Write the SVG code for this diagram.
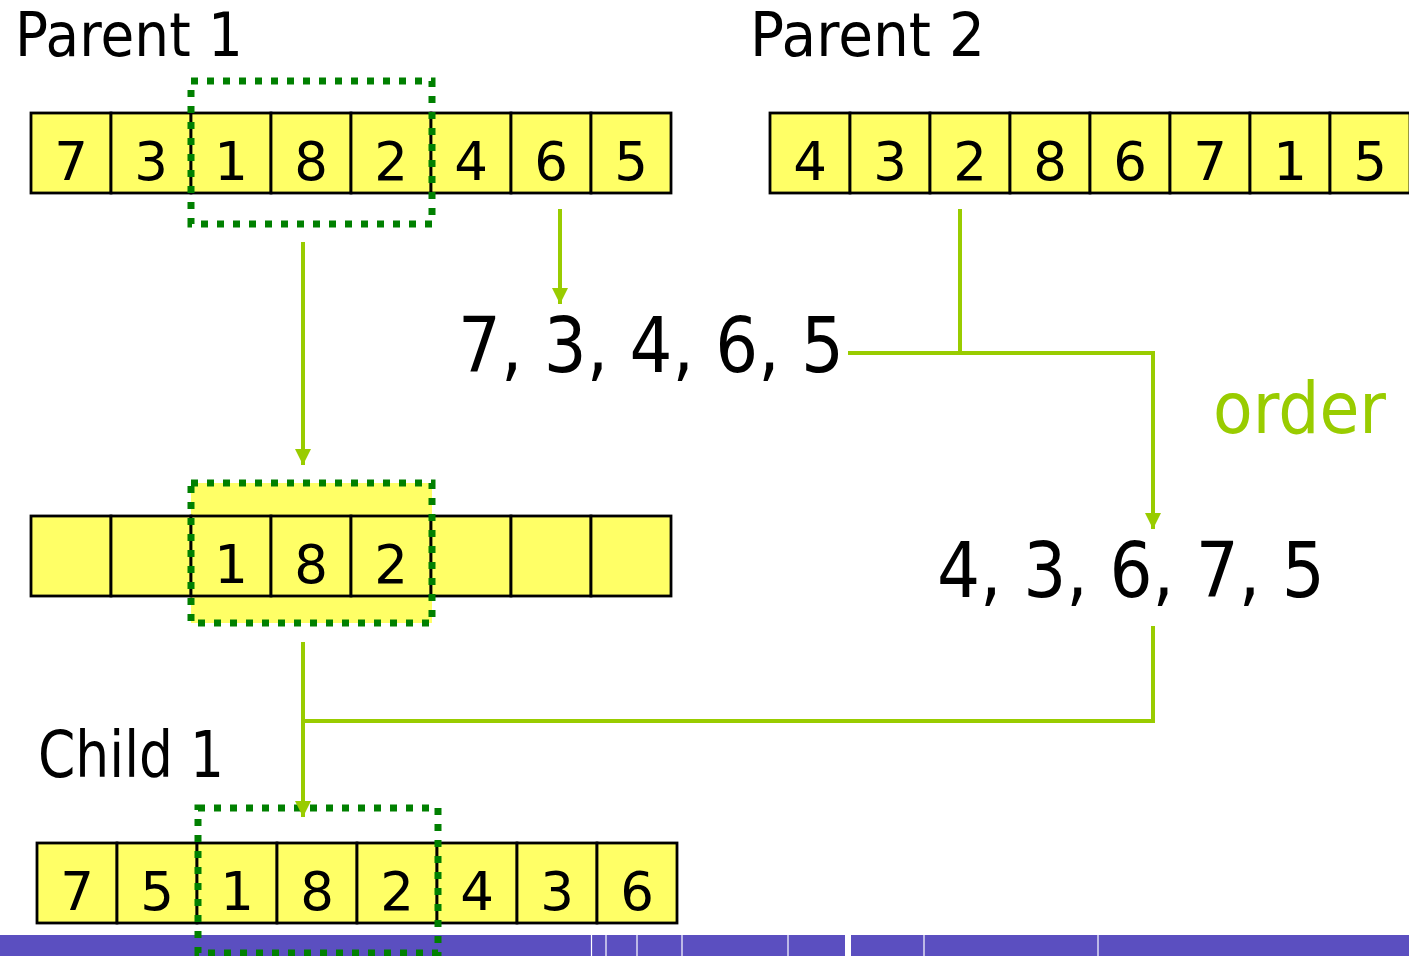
<svg xmlns="http://www.w3.org/2000/svg" width="1409" height="956" viewBox="0 0 1409 956">
  <style>
    .cell { fill: #FFFF66; stroke: #000; stroke-width: 2.8; }
    .num { font-family: "DejaVu Sans", Verdana, sans-serif; font-size: 53px; fill: #000; text-anchor: middle; }
    .title { font-family: "DejaVu Sans", Verdana, sans-serif; fill: #000; }
    .seq { font-family: "DejaVu Sans", Verdana, sans-serif; font-size: 76px; fill: #000; }
    .sel { fill: none; stroke: #008000; stroke-width: 7; stroke-dasharray: 7 9; }
    .flow { fill: none; stroke: #99CC00; stroke-width: 4; }
    .tick { stroke: #FFFFFF; stroke-width: 1.2; }
  </style>
  <defs>
    <marker id="tip" viewBox="0 0 16 16" refX="16" refY="8" markerWidth="16" markerHeight="16" markerUnits="userSpaceOnUse" orient="auto">
      <path d="M0 0 L16 8 L0 16 Z" fill="#99CC00"/>
    </marker>
  </defs>

  <rect width="1409" height="956" fill="#FFFFFF"/>

  <!-- footer band -->
  <g id="footer">
    <rect x="0" y="935" width="1409" height="21" fill="#5B4FC0"/>
    <line class="tick" x1="591.5" y1="935" x2="591.5" y2="956"/>
    <line class="tick" x1="606" y1="935" x2="606" y2="956"/>
    <line class="tick" x1="637" y1="935" x2="637" y2="956"/>
    <line class="tick" x1="682" y1="935" x2="682" y2="956"/>
    <line class="tick" x1="788" y1="935" x2="788" y2="956"/>
    <rect x="845" y="935" width="6" height="21" fill="#FFFFFF"/>
    <line class="tick" x1="924" y1="935" x2="924" y2="956"/>
    <line class="tick" x1="1098" y1="935" x2="1098" y2="956"/>
  </g>

  <!-- titles -->
  <g id="labels">
    <text class="title" x="15" y="56" font-size="60" textLength="228" lengthAdjust="spacingAndGlyphs">Parent 1</text>
    <text class="title" x="750" y="56" font-size="60" textLength="235" lengthAdjust="spacingAndGlyphs">Parent 2</text>
    <text class="title" x="38" y="777" font-size="64" textLength="186" lengthAdjust="spacingAndGlyphs">Child 1</text>
    <text x="1213" y="433" font-family="DejaVu Sans, Verdana, sans-serif" font-size="72" fill="#99CC00" textLength="173" lengthAdjust="spacingAndGlyphs">order</text>
  </g>

  <!-- Parent 1 -->
  <g id="parent1">
    <rect class="cell" x="31" y="113" width="80" height="80"/>
    <rect class="cell" x="111" y="113" width="80" height="80"/>
    <rect class="cell" x="191" y="113" width="80" height="80"/>
    <rect class="cell" x="271" y="113" width="80" height="80"/>
    <rect class="cell" x="351" y="113" width="80" height="80"/>
    <rect class="cell" x="431" y="113" width="80" height="80"/>
    <rect class="cell" x="511" y="113" width="80" height="80"/>
    <rect class="cell" x="591" y="113" width="80" height="80"/>
    <text class="num" x="71" y="180">7</text>
    <text class="num" x="151" y="180">3</text>
    <text class="num" x="231" y="180">1</text>
    <text class="num" x="311" y="180">8</text>
    <text class="num" x="391" y="180">2</text>
    <text class="num" x="471" y="180">4</text>
    <text class="num" x="551" y="180">6</text>
    <text class="num" x="631" y="180">5</text>
    <rect class="sel" x="191" y="81" width="241" height="143"/>
  </g>

  <!-- Parent 2 -->
  <g id="parent2">
    <rect class="cell" x="770" y="113" width="80" height="80"/>
    <rect class="cell" x="850" y="113" width="80" height="80"/>
    <rect class="cell" x="930" y="113" width="80" height="80"/>
    <rect class="cell" x="1010" y="113" width="80" height="80"/>
    <rect class="cell" x="1090" y="113" width="80" height="80"/>
    <rect class="cell" x="1170" y="113" width="80" height="80"/>
    <rect class="cell" x="1250" y="113" width="80" height="80"/>
    <rect class="cell" x="1330" y="113" width="80" height="80"/>
    <text class="num" x="810" y="180">4</text>
    <text class="num" x="890" y="180">3</text>
    <text class="num" x="970" y="180">2</text>
    <text class="num" x="1050" y="180">8</text>
    <text class="num" x="1130" y="180">6</text>
    <text class="num" x="1210" y="180">7</text>
    <text class="num" x="1290" y="180">1</text>
    <text class="num" x="1370" y="180">5</text>
  </g>

  <!-- remaining genes of Parent 1 -->
  <g id="rest">
    <text class="seq" x="458" y="372" textLength="386" lengthAdjust="spacingAndGlyphs">7, 3, 4, 6, 5</text>
  </g>

  <!-- the same genes in Parent 2 order -->
  <g id="ordered">
    <text class="seq" x="937" y="597" textLength="388" lengthAdjust="spacingAndGlyphs">4, 3, 6, 7, 5</text>
  </g>

  <!-- proto-child with copied segment -->
  <g id="proto">
    <rect x="191" y="483" width="241" height="140" fill="#FFFF66"/>
    <rect class="cell" x="31" y="516" width="80" height="80"/>
    <rect class="cell" x="111" y="516" width="80" height="80"/>
    <rect class="cell" x="191" y="516" width="80" height="80"/>
    <rect class="cell" x="271" y="516" width="80" height="80"/>
    <rect class="cell" x="351" y="516" width="80" height="80"/>
    <rect class="cell" x="431" y="516" width="80" height="80"/>
    <rect class="cell" x="511" y="516" width="80" height="80"/>
    <rect class="cell" x="591" y="516" width="80" height="80"/>
    <text class="num" x="231" y="583">1</text>
    <text class="num" x="311" y="583">8</text>
    <text class="num" x="391" y="583">2</text>
    <rect class="sel" x="191" y="483" width="241" height="140"/>
  </g>

  <!-- Child 1 -->
  <g id="child1">
    <rect class="cell" x="37" y="843" width="80" height="80"/>
    <rect class="cell" x="117" y="843" width="80" height="80"/>
    <rect class="cell" x="197" y="843" width="80" height="80"/>
    <rect class="cell" x="277" y="843" width="80" height="80"/>
    <rect class="cell" x="357" y="843" width="80" height="80"/>
    <rect class="cell" x="437" y="843" width="80" height="80"/>
    <rect class="cell" x="517" y="843" width="80" height="80"/>
    <rect class="cell" x="597" y="843" width="80" height="80"/>
    <text class="num" x="77" y="910">7</text>
    <text class="num" x="157" y="910">5</text>
    <text class="num" x="237" y="910">1</text>
    <text class="num" x="317" y="910">8</text>
    <text class="num" x="397" y="910">2</text>
    <text class="num" x="477" y="910">4</text>
    <text class="num" x="557" y="910">3</text>
    <text class="num" x="637" y="910">6</text>
    <rect class="sel" x="198" y="808" width="240" height="145"/>
  </g>

  <!-- connectors -->
  <g id="connectors">
    <path class="flow" d="M303 242 V465" marker-end="url(#tip)"/>
    <path class="flow" d="M560 209 V304" marker-end="url(#tip)"/>
    <path class="flow" d="M960 209 V353"/>
    <path class="flow" d="M848 353 H1153 V529" marker-end="url(#tip)"/>
    <path class="flow" d="M1153 626 V721 H303"/>
    <path class="flow" d="M303 642 V817" marker-end="url(#tip)"/>
  </g>
</svg>
